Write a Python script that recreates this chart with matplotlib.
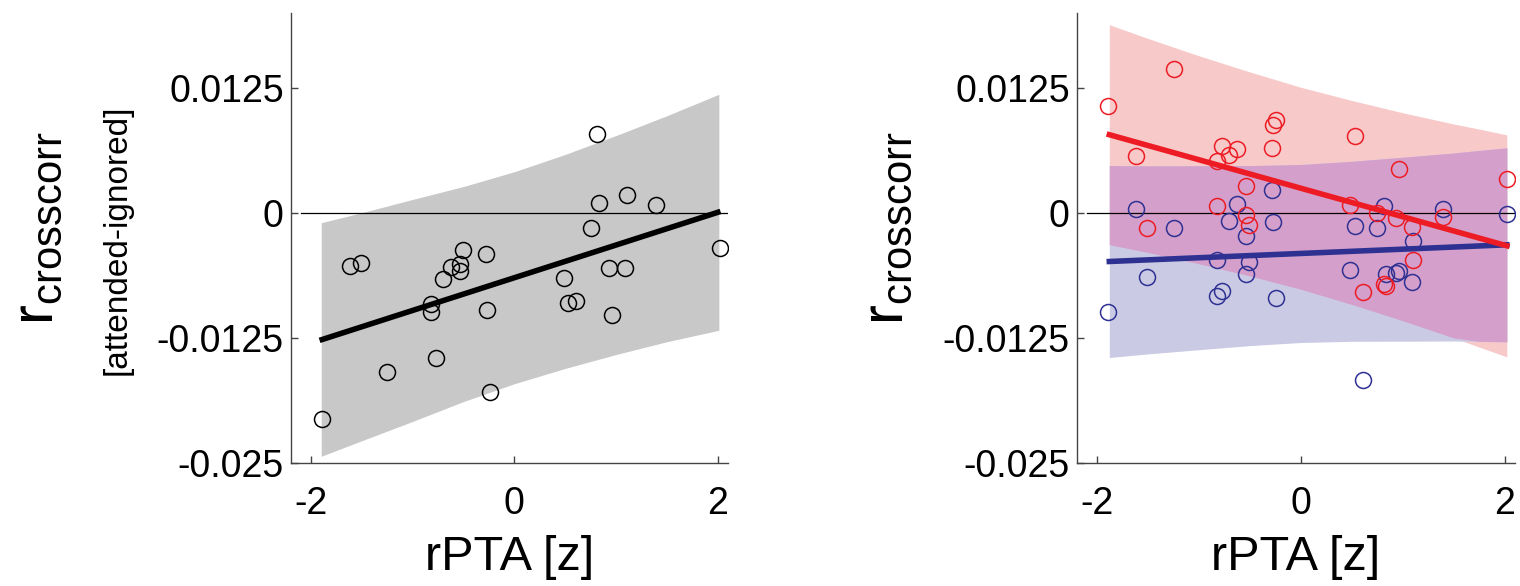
import numpy as np
import matplotlib
matplotlib.use('Agg')
import matplotlib.pyplot as plt

plt.rcParams['font.family'] = ['Liberation Sans', 'DejaVu Sans']
plt.rcParams['mathtext.fontset'] = 'custom'
plt.rcParams['mathtext.rm'] = 'Liberation Sans'

# rPTA [z] per subject (shared by both panels)
rpta = [-1.89, -1.62, -1.51, -1.25, -0.82, -0.82, -0.77, -0.705, -0.625, -0.54,
        -0.535, -0.51, -0.28, -0.27, -0.245, 0.485, 0.53, 0.61, 0.75, 0.81,
        0.835, 0.93, 0.963, 1.09, 1.103, 1.39, 2.02]

# left panel: attended - ignored
r_diff = [-0.0206, -0.0053, -0.0050, -0.0159, -0.0091, -0.0099, -0.0145, -0.0066,
          -0.0054, -0.0051, -0.0058, -0.0037, -0.0041, -0.0097, -0.0179, -0.0065,
          -0.0090, -0.0088, -0.0015, 0.0079, 0.0010, -0.0055, -0.0102, -0.0055,
          0.0018, 0.0008, -0.0035]

# right panel: red and blue conditions
r_red = [0.01074, 0.00576, -0.00144, 0.01439, 0.0007, 0.00522, 0.00676, 0.00579,
         0.00643, 0.00274, -0.00013, -0.00114, 0.00649, 0.00887, 0.00937, 0.00087,
         0.00773, -0.00787, 0.0, -0.0071, -0.00726, -0.00044, 0.00448, -0.00134,
         -0.00465, -0.0004, 0.00345]
r_blue = [-0.00987, 0.0004, -0.00633, -0.00144, -0.00827, -0.00462, -0.00773, -0.00077,
          0.00097, -0.00228, -0.00602, -0.00485, 0.00238, -0.00084, -0.00847, -0.00562,
          -0.00127, -0.01664, -0.00151, 0.00077, -0.00609, -0.00592, -0.00576, -0.00686,
          -0.00281, 0.00044, -0.00003]

# fitted lines (end points)
fit1_x = [-1.89, 2.0]
fit1_y = [-0.01262, 0.0001]
fit2_x = [-1.88, 2.02]
fit_red = [0.00786, -0.00325]
fit_blue = [-0.00482, -0.00315]

# confidence bands
band1_x = [-1.9, -1.5, -1.0, -0.5, 0.0, 0.5, 1.0, 1.5, 2.01]
diff_hi = [-0.00094, 0.00006, 0.00139, 0.00268, 0.00416, 0.00589, 0.00778, 0.00976, 0.0119]
diff_lo = [-0.0243, -0.02274, -0.02081, -0.01882, -0.01704, -0.01551, -0.01412, -0.01284, -0.0117]

band2_x = [-1.88, -1.5, -1.0, -0.5, 0.0, 0.5, 1.0, 1.5, 1.75, 2.02]
red_hi = [0.01886, 0.01748, 0.01575, 0.01413, 0.0126, 0.01128, 0.01005, 0.00893, 0.00842, 0.00784]
red_lo = [-0.00314, -0.00392, -0.00505, -0.00627, -0.0076, -0.00912, -0.01075, -0.01247, -0.01338, -0.01436]
blue_hi = [0.00478, 0.00474, 0.00476, 0.00477, 0.00488, 0.0052, 0.00561, 0.00603, 0.00629, 0.00655]
blue_lo = [-0.01442, -0.01406, -0.01364, -0.01323, -0.01292, -0.0128, -0.01279, -0.01277, -0.01281, -0.01285]

yticks = [-0.025, -0.0125, 0, 0.0125]
yticklabels = ['-0.025', '-0.0125', '0', '0.0125']
xticks = [-2, 0, 2]

RED = '#ED1C24'
BLUE = '#2E3192'

W, H = 1520, 586
fig = plt.figure(figsize=(W / 100, H / 100), dpi=100)
ax1 = fig.add_axes([290.7 / W, 1 - 463.3 / H, 437.3 / W, 450 / H])
ax2 = fig.add_axes([1076.7 / W, 1 - 463.3 / H, 438.3 / W, 450 / H])


def style(ax):
    ax.set_xlim(-2.2, 2.1)
    ax.set_ylim(-0.025, 0.02)
    ax.set_xticks(xticks)
    ax.set_xticklabels([str(t) for t in xticks])
    ax.set_yticks(yticks)
    ax.set_yticklabels(yticklabels)
    for s in ['top', 'right']:
        ax.spines[s].set_visible(False)
    for s in ['left', 'bottom']:
        ax.spines[s].set_color('#444444')
        ax.spines[s].set_linewidth(1.0)
    ax.tick_params(direction='in', length=5, width=1, color='#444444', labelsize=27)
    ax.tick_params(axis='y', pad=5)
    ax.tick_params(axis='x', pad=16)
    ax.set_xlabel('rPTA [z]', fontsize=35, labelpad=10)
    ax.plot([-2.1, 2.1], [0, 0], color='black', lw=0.9, zorder=2)


# left panel
ax1.fill_between(band1_x, diff_lo, diff_hi, color='#C8C8C8', lw=0, zorder=1)
style(ax1)
ax1.plot(rpta, r_diff, 'o', mfc='none', mec='black', ms=11.5, mew=1.1, zorder=3)
ax1.plot(fit1_x, fit1_y, color='black', lw=4, zorder=4)

# right panel
ax2.fill_between(band2_x, red_lo, red_hi, color='#F7C9C9', lw=0, zorder=1)
ax2.fill_between(band2_x, blue_lo, blue_hi, color='#CACAE4', lw=0, zorder=1)
ax2.fill_between(band2_x, np.maximum(red_lo, blue_lo), np.minimum(red_hi, blue_hi),
                 color='#D4A0CB', lw=0, zorder=1)
style(ax2)
ax2.plot(rpta, r_blue, 'o', mfc='none', mec=BLUE, ms=11.5, mew=1.1, zorder=3)
ax2.plot(rpta, r_red, 'o', mfc='none', mec=RED, ms=11.5, mew=1.1, zorder=3)
ax2.plot(fit2_x, fit_blue, color=BLUE, lw=4, zorder=4)
ax2.plot(fit2_x, fit_red, color=RED, lw=4, zorder=5)

# y labels
ylab = r'$\mathrm{r}_{\mathrm{crosscorr}}$'
fig.text(38 / W, 1 - 228 / H, ylab, fontsize=43, rotation=90, ha='center', va='center')
fig.text(117 / W, 1 - 240 / H, '[attended-ignored]', fontsize=24, rotation=90,
         ha='center', va='center')
fig.text(888 / W, 1 - 228 / H, ylab, fontsize=43, rotation=90, ha='center', va='center')

fig.savefig('out.png', dpi=100)
